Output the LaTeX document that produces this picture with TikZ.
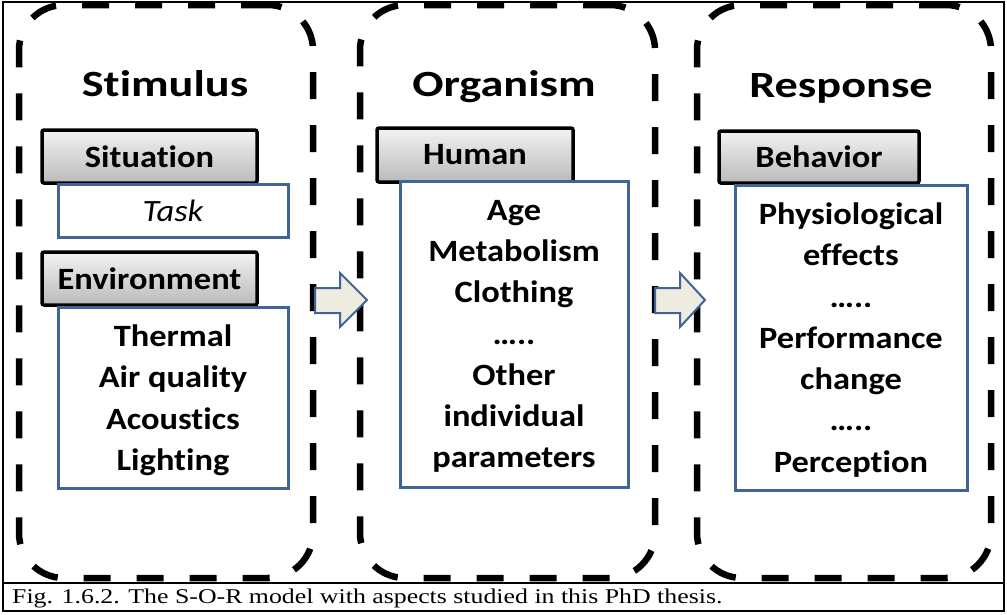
\documentclass[tikz,border=0pt]{standalone}
\usepackage{fontspec}
\setmainfont{Carlito}[FakeStretch=1.11, Ligatures=NoCommon]
\newfontfamily\titlefont{Carlito}[FakeStretch=1.25, Ligatures=NoCommon]
\newfontfamily\capfont{Liberation Serif}[FakeStretch=1.23]
\definecolor{boxblue}{RGB}{65,100,150}
\definecolor{arrowfill}{RGB}{238,236,225}
\tikzset{
  stage/.style={draw=black, line width=6.5pt, dash pattern=on 27pt off 26pt, rounded corners=45pt, outer sep=0pt, inner sep=0pt},
  labelbox/.style={draw=black, line width=3.5pt, rounded corners=2pt, top color=black!5, bottom color=black!27, outer sep=0pt, inner sep=0pt, font=\bfseries\fontsize{31}{36}\selectfont},
  contentbox/.style={draw=boxblue, line width=3pt, fill=white, outer sep=0pt, inner sep=0pt, align=center, text depth=0pt, font=\bfseries\fontsize{31}{41.3}\selectfont},
  titletext/.style={font=\titlefont\bfseries\fontsize{37}{40}\selectfont, inner sep=0pt, anchor=base},
  blockarrow/.style={draw=boxblue, line width=2pt, fill=arrowfill, line join=miter},
  frameline/.style={draw=black, line width=2pt},
}
\begin{document}
\begin{tikzpicture}[x=1pt,y=-1pt]
\useasboundingbox (0,0) rectangle (1007,614);
\fill[white] (0,0) rectangle (1007,614);
% outer frame and caption row
\draw[frameline] (3,2) rectangle (1004,611);
\draw[frameline] (3,583) -- (1004,583);
\node[anchor=base west, inner sep=0pt, font=\capfont\fontsize{21}{24}\selectfont] (caption) at (12,603) {Fig. 1.6.2. The S-O-R model with aspects studied in this PhD thesis.};

% dashed stage boxes
\node[stage, anchor=north west, minimum width=294pt, minimum height=573pt] (stim) at (19,5) {};
\node[stage, anchor=north west, minimum width=295pt, minimum height=573pt] (org) at (360,5) {};
\node[stage, anchor=north west, minimum width=294pt, minimum height=573pt] (resp) at (697,5) {};

% titles
\node[titletext] (stimtitle) at (165,96) {Stimulus};
\node[titletext] (orgtitle) at (504,96) {Organism};
\node[titletext] (resptitle) at (841,97) {Response};

% gray label boxes
\node[labelbox, anchor=north west, minimum width=215pt, minimum height=53pt] (situation) at (42,130) {Situation};
\node[labelbox, anchor=north west, minimum width=215pt, minimum height=53pt] (environment) at (42,252) {Environment};
\node[labelbox, anchor=north west, minimum width=196pt, minimum height=54pt] (human) at (377,128) {Human};
\node[labelbox, anchor=north west, minimum width=200pt, minimum height=52pt] (behavior) at (719,131) {Behavior};

% blue content boxes
\node[contentbox, anchor=north west, minimum width=230pt, minimum height=53pt, font=\itshape\fontsize{31}{36}\selectfont] (task) at (58,184) {Task};
\node[contentbox, anchor=north west, minimum width=230pt, minimum height=181pt] (envlist) at (58,307) {Thermal\\Air quality\\Acoustics\\Lighting};
\node[contentbox, anchor=north west, minimum width=228pt, minimum height=306pt] (humanlist) at (400,181) {Age\\Metabolism\\Clothing\\…..\\Other\\individual\\parameters};
\node[contentbox, anchor=north west, minimum width=232pt, minimum height=305pt] (behavlist) at (735,185) {Physiological\\effects\\…..\\Performance\\change\\…..\\Perception};

% block arrows between stages
\draw[blockarrow] (315,288) -- (340,288) -- (340,273) -- (367,300) -- (340,327) -- (340,313) -- (315,313) -- cycle;
\draw[blockarrow] (655,288) -- (680,288) -- (680,273) -- (705,300) -- (680,327) -- (680,313) -- (655,313) -- cycle;
\end{tikzpicture}
\end{document}
